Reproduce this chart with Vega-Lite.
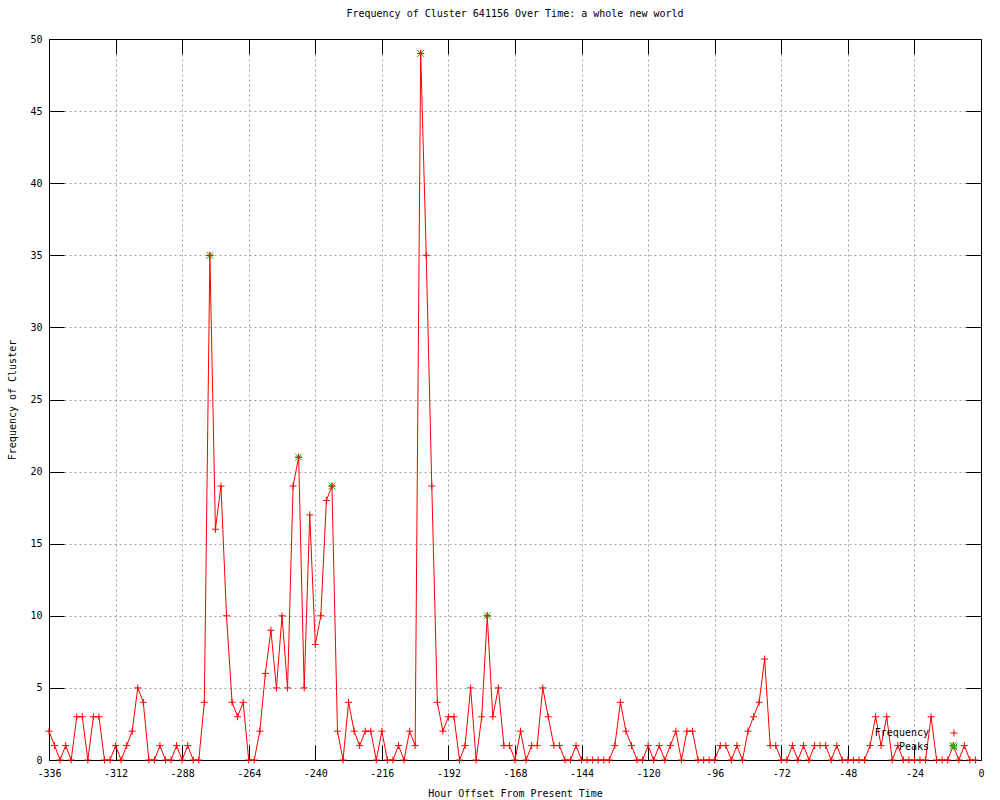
{
  "$schema": "https://vega.github.io/schema/vega-lite/v6.json",
  "width": 932,
  "height": 721,
  "autosize": {"type": "none"},
  "padding": {"left": 49, "top": 39, "right": 19, "bottom": 40},
  "background": "white",
  "title": {"text": "Frequency of Cluster 641156 Over Time: a whole new world", "font": "DejaVu Sans Mono", "fontSize": 10, "fontWeight": "normal", "color": "black", "offset": 15},
  "config": {
    "view": {"stroke": "black", "strokeWidth": 1},
    "axis": {"labelFont": "DejaVu Sans Mono", "labelFontSize": 10, "titleFont": "DejaVu Sans Mono", "titleFontSize": 10, "titleFontWeight": "normal", "labelColor": "black", "titleColor": "black", "domainColor": "black", "tickColor": "black", "gridColor": "#a0a0a0", "gridDash": [2, 3], "gridOpacity": 1, "domain": true, "labelFlush": false, "labelOverlap": false},
    "legend": {"labelFont": "DejaVu Sans Mono", "labelFontSize": 10, "labelColor": "black"}
  },
  "datasets": {
    "freq": [
      {"h": -336, "v": 2}, {"h": -334, "v": 1}, {"h": -332, "v": 0}, {"h": -330, "v": 1}, {"h": -328, "v": 0},
      {"h": -326, "v": 3}, {"h": -324, "v": 3}, {"h": -322, "v": 0}, {"h": -320, "v": 3}, {"h": -318, "v": 3},
      {"h": -316, "v": 0}, {"h": -314, "v": 0}, {"h": -312, "v": 1}, {"h": -310, "v": 0}, {"h": -308, "v": 1},
      {"h": -306, "v": 2}, {"h": -304, "v": 5}, {"h": -302, "v": 4}, {"h": -300, "v": 0}, {"h": -298, "v": 0},
      {"h": -296, "v": 1}, {"h": -294, "v": 0}, {"h": -292, "v": 0}, {"h": -290, "v": 1}, {"h": -288, "v": 0},
      {"h": -286, "v": 1}, {"h": -284, "v": 0}, {"h": -282, "v": 0}, {"h": -280, "v": 4}, {"h": -278, "v": 35},
      {"h": -276, "v": 16}, {"h": -274, "v": 19}, {"h": -272, "v": 10}, {"h": -270, "v": 4}, {"h": -268, "v": 3},
      {"h": -266, "v": 4}, {"h": -264, "v": 0}, {"h": -262, "v": 0}, {"h": -260, "v": 2}, {"h": -258, "v": 6},
      {"h": -256, "v": 9}, {"h": -254, "v": 5}, {"h": -252, "v": 10}, {"h": -250, "v": 5}, {"h": -248, "v": 19},
      {"h": -246, "v": 21}, {"h": -244, "v": 5}, {"h": -242, "v": 17}, {"h": -240, "v": 8}, {"h": -238, "v": 10},
      {"h": -236, "v": 18}, {"h": -234, "v": 19}, {"h": -232, "v": 2}, {"h": -230, "v": 0}, {"h": -228, "v": 4},
      {"h": -226, "v": 2}, {"h": -224, "v": 1}, {"h": -222, "v": 2}, {"h": -220, "v": 2}, {"h": -218, "v": 0},
      {"h": -216, "v": 2}, {"h": -214, "v": 0}, {"h": -212, "v": 0}, {"h": -210, "v": 1}, {"h": -208, "v": 0},
      {"h": -206, "v": 2}, {"h": -204, "v": 1}, {"h": -202, "v": 49}, {"h": -200, "v": 35}, {"h": -198, "v": 19},
      {"h": -196, "v": 4}, {"h": -194, "v": 2}, {"h": -192, "v": 3}, {"h": -190, "v": 3}, {"h": -188, "v": 0},
      {"h": -186, "v": 1}, {"h": -184, "v": 5}, {"h": -182, "v": 0}, {"h": -180, "v": 3}, {"h": -178, "v": 10},
      {"h": -176, "v": 3}, {"h": -174, "v": 5}, {"h": -172, "v": 1}, {"h": -170, "v": 1}, {"h": -168, "v": 0},
      {"h": -166, "v": 2}, {"h": -164, "v": 0}, {"h": -162, "v": 1}, {"h": -160, "v": 1}, {"h": -158, "v": 5},
      {"h": -156, "v": 3}, {"h": -154, "v": 1}, {"h": -152, "v": 1}, {"h": -150, "v": 0}, {"h": -148, "v": 0},
      {"h": -146, "v": 1}, {"h": -144, "v": 0}, {"h": -142, "v": 0}, {"h": -140, "v": 0}, {"h": -138, "v": 0},
      {"h": -136, "v": 0}, {"h": -134, "v": 0}, {"h": -132, "v": 1}, {"h": -130, "v": 4}, {"h": -128, "v": 2},
      {"h": -126, "v": 1}, {"h": -124, "v": 0}, {"h": -122, "v": 0}, {"h": -120, "v": 1}, {"h": -118, "v": 0},
      {"h": -116, "v": 1}, {"h": -114, "v": 0}, {"h": -112, "v": 1}, {"h": -110, "v": 2}, {"h": -108, "v": 0},
      {"h": -106, "v": 2}, {"h": -104, "v": 2}, {"h": -102, "v": 0}, {"h": -100, "v": 0}, {"h": -98, "v": 0},
      {"h": -96, "v": 0}, {"h": -94, "v": 1}, {"h": -92, "v": 1}, {"h": -90, "v": 0}, {"h": -88, "v": 1},
      {"h": -86, "v": 0}, {"h": -84, "v": 2}, {"h": -82, "v": 3}, {"h": -80, "v": 4}, {"h": -78, "v": 7},
      {"h": -76, "v": 1}, {"h": -74, "v": 1}, {"h": -72, "v": 0}, {"h": -70, "v": 0}, {"h": -68, "v": 1},
      {"h": -66, "v": 0}, {"h": -64, "v": 1}, {"h": -62, "v": 0}, {"h": -60, "v": 1}, {"h": -58, "v": 1},
      {"h": -56, "v": 1}, {"h": -54, "v": 0}, {"h": -52, "v": 1}, {"h": -50, "v": 0}, {"h": -48, "v": 0},
      {"h": -46, "v": 0}, {"h": -44, "v": 0}, {"h": -42, "v": 0}, {"h": -40, "v": 1}, {"h": -38, "v": 3},
      {"h": -36, "v": 1}, {"h": -34, "v": 3}, {"h": -32, "v": 0}, {"h": -30, "v": 1}, {"h": -28, "v": 0},
      {"h": -26, "v": 0}, {"h": -24, "v": 0}, {"h": -22, "v": 0}, {"h": -20, "v": 0}, {"h": -18, "v": 3},
      {"h": -16, "v": 0}, {"h": -14, "v": 0}, {"h": -12, "v": 0}, {"h": -10, "v": 1}, {"h": -8, "v": 0},
      {"h": -6, "v": 1}, {"h": -4, "v": 0}, {"h": -2, "v": 0}
    ],
    "peaks": [
      {"h": -278, "v": 35}, {"h": -246, "v": 21}, {"h": -234, "v": 19}, {"h": -202, "v": 49}, {"h": -178, "v": 10}, {"h": -10, "v": 1}
    ]
  },
  "resolve": {"axis": {"x": "independent", "y": "independent"}},
  "layer": [
    {
      "data": {"name": "freq"},
      "mark": {"type": "line", "color": "#ff0000", "strokeWidth": 1, "clip": false},
      "encoding": {
        "x": {"field": "h", "type": "quantitative", "scale": {"domain": [-336, 0], "nice": false, "zero": false},
          "axis": {"orient": "bottom", "values": [-336, -312, -288, -264, -240, -216, -192, -168, -144, -120, -96, -72, -48, -24, 0], "labelExpr": "'' + datum.value", "title": "Hour Offset From Present Time", "tickSize": -15, "labelPadding": 23, "titlePadding": 10, "grid": true}},
        "y": {"field": "v", "type": "quantitative", "scale": {"domain": [0, 50], "nice": false},
          "axis": {"orient": "left", "values": [0, 5, 10, 15, 20, 25, 30, 35, 40, 45, 50], "title": "Frequency of Cluster", "tickSize": -15, "labelPadding": 22, "titlePadding": 12, "grid": true}}
      }
    },
    {
      "data": {"name": "peaks"},
      "mark": {"type": "point", "filled": false, "strokeWidth": 1, "size": 49, "opacity": 1, "clip": false},
      "encoding": {
        "x": {"field": "h", "type": "quantitative", "axis": {"orient": "top", "values": [-336, -312, -288, -264, -240, -216, -192, -168, -144, -120, -96, -72, -48, -24, 0], "labels": false, "title": null, "tickSize": -15, "grid": false}},
        "y": {"field": "v", "type": "quantitative", "axis": {"orient": "right", "values": [0, 5, 10, 15, 20, 25, 30, 35, 40, 45, 50], "labels": false, "title": null, "tickSize": -15, "grid": false}},
        "color": {"datum": "Peaks", "type": "nominal", "scale": {"domain": ["Frequency", "Peaks"], "range": ["#ff0000", "#00c000"]},
          "legend": {"title": null, "orient": "none", "legendX": 900, "legendY": 689, "padding": 0, "symbolSize": 49, "symbolStrokeWidth": 1, "labelAlign": "right", "labelOffset": -30, "rowPadding": 2}},
        "shape": {"datum": "Peaks", "type": "nominal", "scale": {"domain": ["Frequency", "Peaks"], "range": ["M-1,0L1,0M0,-1L0,1", "M-1,0L1,0M0,-1L0,1M-1,-1L1,1M-1,1L1,-1"]}}
      }
    },
    {
      "data": {"name": "freq"},
      "mark": {"type": "point", "filled": false, "strokeWidth": 1, "size": 49, "opacity": 1, "clip": false},
      "encoding": {
        "x": {"field": "h", "type": "quantitative", "axis": null},
        "y": {"field": "v", "type": "quantitative", "axis": null},
        "color": {"datum": "Frequency", "type": "nominal"},
        "shape": {"datum": "Frequency", "type": "nominal"}
      }
    }
  ]
}
